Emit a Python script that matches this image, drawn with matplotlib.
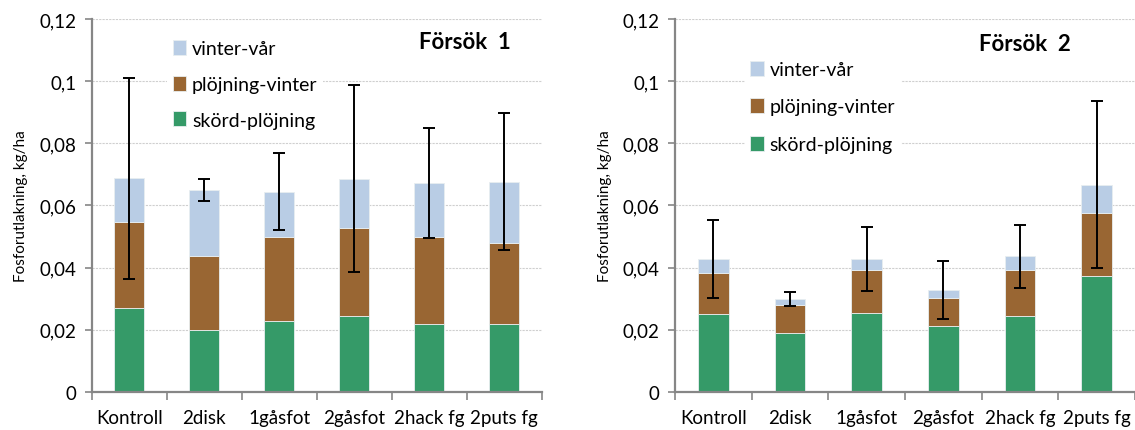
import numpy as np
import matplotlib
matplotlib.use("Agg")
from matplotlib import pyplot as plt

plt.rcParams['font.family'] = ['Lato', 'DejaVu Sans']

categories = ['Kontroll', '2disk', '1gåsfot', '2gåsfot', '2hack fg', '2puts fg']
series_names = ['skörd-plöjning', 'plöjning-vinter', 'vinter-vår']
y_ticks = [0, 0.02, 0.04, 0.06, 0.08, 0.1, 0.12]
y_tick_labels = ['0', '0,02', '0,04', '0,06', '0,08', '0,1', '0,12']

# Försök 1
skord_1 = [0.0270, 0.0199, 0.0228, 0.0244, 0.0219, 0.0219]
plojning_1 = [0.0276, 0.0238, 0.0271, 0.0283, 0.0281, 0.0261]
vinter_1 = [0.0142, 0.0212, 0.0146, 0.0159, 0.0172, 0.0196]
err_1 = [0.0323, 0.0036, 0.0123, 0.0301, 0.0176, 0.0220]

# Försök 2
skord_2 = [0.0251, 0.0191, 0.0255, 0.0212, 0.0244, 0.0372]
plojning_2 = [0.0132, 0.0090, 0.0137, 0.0089, 0.0150, 0.0203]
vinter_2 = [0.0045, 0.0019, 0.0036, 0.0027, 0.0042, 0.0092]
err_2 = [0.0126, 0.0023, 0.0103, 0.0093, 0.0102, 0.0268]

colors = ['#359a68', '#996633', '#b9cde5']
grey = '#868686'


def plot_panel(ax, parts, err, title, leg_pos, leg_spacing, title_pos):
    x = np.arange(len(categories))
    bottom = np.zeros(len(categories))
    handles = []
    for vals, name, col in zip(parts, series_names, colors):
        b = ax.bar(x, vals, 0.4, bottom=bottom, color=col, edgecolor='#e8eef0',
                   linewidth=0.6, label=name, zorder=2)
        handles.append(b)
        bottom = bottom + np.array(vals)
    ax.errorbar(x, bottom, yerr=err, fmt='none', ecolor='black', elinewidth=1.4,
                capsize=4.5, capthick=1.4, zorder=3)

    ax.set_xlim(-0.5, len(categories) - 0.5)
    ax.set_ylim(0, 0.12)
    ax.set_yticks(y_ticks)
    ax.set_yticklabels(y_tick_labels, fontsize=13.5)
    ax.set_xticks(x)
    ax.set_xticklabels(categories, fontsize=13.5)
    ax.tick_params(axis='x', length=0, pad=12)
    ax.set_xticks(np.arange(len(categories) + 1) - 0.5, minor=True)
    ax.tick_params(axis='x', which='minor', length=6, color=grey, width=1.2)
    ax.tick_params(axis='y', length=5, color=grey, width=1.2, pad=6)
    ax.yaxis.grid(True, color='#cfcfcf', linestyle=(0, (2, 1)), linewidth=0.8, zorder=0)
    ax.set_axisbelow(True)
    for s in ['top', 'right']:
        ax.spines[s].set_visible(False)
    for s in ['left', 'bottom']:
        ax.spines[s].set_color(grey)
        ax.spines[s].set_linewidth(1.6)
    ax.set_ylabel('Fosforutlakning, kg/ha', fontsize=11, labelpad=8)

    leg = ax.legend(handles[::-1], series_names[::-1], loc='upper left',
                    bbox_to_anchor=leg_pos, fontsize=14, frameon=True,
                    fancybox=False, edgecolor='none', facecolor='white', framealpha=1,
                    handlelength=0.7, handleheight=0.8, handletextpad=0.3,
                    labelspacing=leg_spacing, borderpad=0.3)
    leg.set_zorder(5)
    ax.text(title_pos[0], title_pos[1], title, transform=ax.transAxes, fontsize=16,
            fontweight='bold', ha='center', va='center')


fig = plt.figure(figsize=(11.35, 4.31), dpi=100)
ax1 = fig.add_axes([0.0808, 0.0882, 0.3965, 0.8654])
ax2 = fig.add_axes([0.5947, 0.0882, 0.4053, 0.8654])

plot_panel(ax1, [skord_1, plojning_1, vinter_1], err_1, 'Försök  1', (0.145, 0.985), 0.95, (0.83, 0.94))
plot_panel(ax2, [skord_2, plojning_2, vinter_2], err_2, 'Försök  2', (0.13, 0.93), 1.05, (0.76, 0.935))

fig.savefig('out.png', dpi=100)
